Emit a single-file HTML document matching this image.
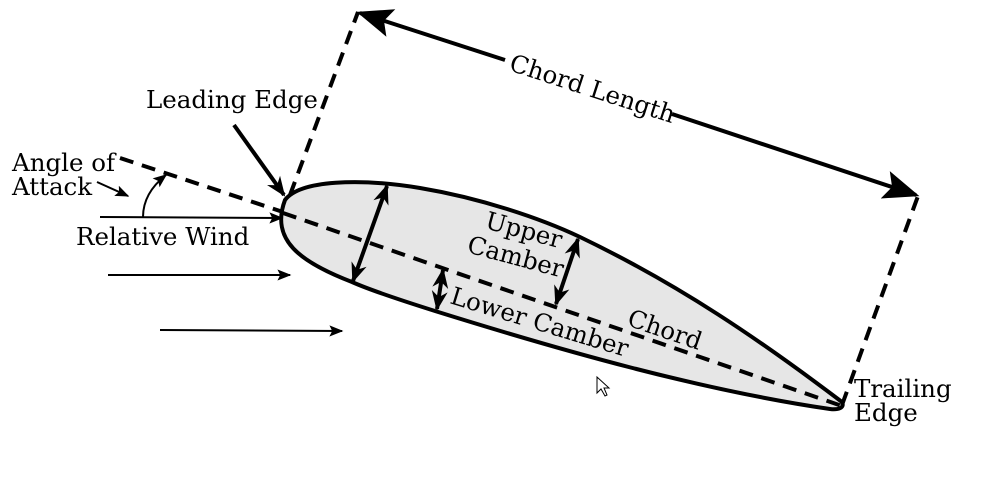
<!DOCTYPE html>
<html><head><style>html,body{margin:0;padding:0;background:#fff}svg{display:block}text{font-family:"DejaVu Serif","Liberation Serif",serif;font-size:24.5px;fill:#000}</style></head>
<body>
<svg width="984" height="478" viewBox="0 0 984 478">
<defs>
<marker id="a" viewBox="0 0 10 10" refX="9" refY="5" markerWidth="5" markerHeight="5" orient="auto-start-reverse"><path d="M0,1 L10,5 L0,9 L3,5Z" fill="#000"/></marker>
<marker id="b" viewBox="0 0 10 10" refX="9" refY="5" markerWidth="7" markerHeight="7" orient="auto-start-reverse"><path d="M0,1 L10,5 L0,9 L2,5Z" fill="#000"/></marker>
<marker id="c" viewBox="0 0 10 10" refX="9" refY="5" markerWidth="9" markerHeight="9" orient="auto-start-reverse"><path d="M0,1 L10,5 L0,9 L2,5Z" fill="#000"/></marker>
</defs>
<path d="M285,200 C300,180 360,178 420,188 C480,198 540,218 580,237 C680,285 760,340 842,402 C845,408 838,410 830,409 C700,390 560,350 435,311 C400,300 370,290 352,282 C300,262 270,240 285,200Z" fill="#e6e6e6" stroke="#000" stroke-width="4"/>
<g stroke="#000" stroke-width="4" stroke-dasharray="14,9" fill="none">
<line x1="283" y1="213" x2="842" y2="406"/>
<line x1="120" y1="158" x2="283" y2="212"/>
<line x1="290" y1="195" x2="358" y2="12"/>
<line x1="842" y1="405" x2="918" y2="196"/>
</g>
<g stroke="#000" stroke-width="4" fill="none">
<line x1="505" y1="60" x2="360" y2="13" marker-end="url(#c)"/>
<line x1="672" y1="114" x2="916" y2="195" marker-end="url(#c)"/>
<line x1="387" y1="186" x2="353" y2="281" marker-start="url(#a)" marker-end="url(#a)"/>
<line x1="578" y1="239" x2="556" y2="304" marker-start="url(#a)" marker-end="url(#a)"/>
<line x1="443" y1="270" x2="437" y2="309" marker-start="url(#a)" marker-end="url(#a)"/>
<line x1="234" y1="125" x2="284" y2="195" marker-end="url(#a)"/>
</g>
<g stroke="#000" stroke-width="2" fill="none">
<line x1="100" y1="217" x2="282" y2="218" marker-end="url(#b)"/>
<line x1="108" y1="275" x2="290" y2="275" marker-end="url(#b)"/>
<line x1="160" y1="330" x2="342" y2="331" marker-end="url(#b)"/>
<line x1="97" y1="182" x2="128" y2="196" marker-end="url(#b)"/>
<path d="M143,217 C143,200 152,186 166,175" marker-end="url(#b)"/>
</g>
<text x="146" y="108">Leading Edge</text>
<text x="12" y="171">Angle of</text>
<text x="12" y="195">Attack</text>
<text x="76" y="245">Relative Wind</text>
<text x="854" y="397">Trailing</text>
<text x="854" y="421">Edge</text>
<text transform="translate(508,70) rotate(18)">Chord Length</text>
<text transform="translate(484,228) rotate(15)">Upper</text>
<text transform="translate(466,252) rotate(15)">Camber</text>
<text transform="translate(449,303) rotate(17)">Lower Camber</text>
<text transform="translate(626,325) rotate(19)">Chord</text>
<path d="M597,377 L597,393 L601,389 L605,396 L607,395 L604,388 L609,388Z" fill="#fff" stroke="#000" stroke-width="1"/>
</svg>
</body></html>
